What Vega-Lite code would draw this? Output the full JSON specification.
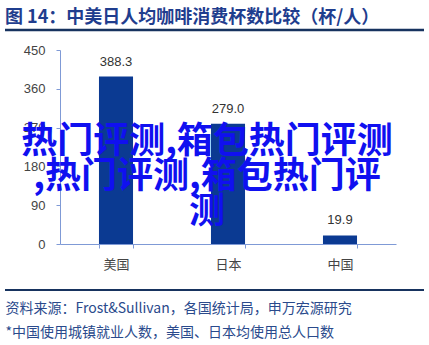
{
  "$schema": "https://vega.github.io/schema/vega-lite/v6.json",
  "autosize": "none",
  "width": 336,
  "height": 194,
  "padding": {"left": 60, "top": 50, "right": 33, "bottom": 101},
  "background": "white",
  "config": {
    "view": {"stroke": null},
    "font": "Liberation Sans, Noto Sans CJK SC",
    "axis": {"labelFont": "Liberation Sans, Noto Sans CJK SC", "titleFont": "Noto Sans CJK SC"}
  },
  "title": {
    "text": "图 14：中美日人均咖啡消费杯数比较（杯/人）",
    "anchor": "start",
    "frame": "group",
    "dx": -55,
    "offset": 2,
    "font": "Noto Sans CJK SC",
    "fontSize": 18,
    "fontWeight": "bold",
    "color": "#1F3D8E"
  },
  "datasets": {
    "bars": [
      {"country": "美国", "cups": 388.3},
      {"country": "日本", "cups": 279.0},
      {"country": "中国", "cups": 19.9}
    ],
    "overlay": [
      {"t": "热门评测,箱包热门评测", "v": 236.6},
      {"t": ",热门评测,箱包热门评", "v": 155.4},
      {"t": "测", "v": 74.2}
    ]
  },
  "layer": [
    {
      "data": {"name": "bars"},
      "mark": {"type": "bar", "color": "#0B3A92"},
      "encoding": {
        "x": {
          "field": "country",
          "type": "nominal",
          "sort": null,
          "scale": {"paddingInner": 0.696, "paddingOuter": 0.348},
          "axis": {
            "title": ["资料来源：Frost&Sullivan，各国统计局，申万宏源研究", "*中国使用城镇就业人数，美国、日本均使用总人口数"],
            "titleX": -55,
            "titleY": 68,
            "titleAlign": "left",
            "titleAnchor": null,
            "titleBaseline": "alphabetic",
            "titleLineHeight": 24,
            "titleFontSize": 14,
            "titleFontWeight": "normal",
            "titleColor": "#2A4A8C",
            "labelAngle": 0,
            "labelFontSize": 13,
            "labelColor": "#444444",
            "labelPadding": 10,
            "domainColor": "#7F9AD6",
            "tickColor": "#7F9AD6",
            "tickSize": 4,
            "tickBand": "extent"
          }
        },
        "y": {
          "field": "cups",
          "type": "quantitative",
          "scale": {"domain": [0, 450], "nice": false},
          "axis": {
            "title": null,
            "values": [0, 90, 180, 270, 360, 450],
            "tickCount": 10,
            "grid": false,
            "labelOverlap": false,
            "labelFontSize": 13,
            "labelColor": "#444444",
            "labelPadding": 11,
            "domainColor": "#7F9AD6",
            "tickColor": "#7F9AD6",
            "tickSize": 4
          }
        }
      }
    },
    {
      "data": {"name": "bars"},
      "mark": {"type": "text", "baseline": "bottom", "dy": -8, "fontSize": 13, "color": "#333333"},
      "encoding": {
        "x": {"field": "country", "type": "nominal", "sort": null},
        "y": {"field": "cups", "type": "quantitative"},
        "text": {"field": "cups", "type": "quantitative", "format": ".1f"}
      }
    },
    {
      "data": {"name": "overlay"},
      "mark": {"type": "text", "align": "center", "baseline": "middle", "dx": -21, "font": "Noto Sans CJK SC", "fontSize": 36, "fontWeight": "bold", "color": "#1010F0"},
      "encoding": {
        "x": {"datum": "日本", "type": "nominal"},
        "y": {"field": "v", "type": "quantitative"},
        "text": {"field": "t", "type": "nominal"}
      }
    },
    {
      "data": {"values": [{"pos": "top"}]},
      "mark": {"type": "rule", "color": "#17335F", "strokeWidth": 2.5},
      "encoding": {"x": {"value": -55}, "x2": {"value": 364}, "y": {"value": -20}}
    },
    {
      "data": {"values": [{"pos": "bottom"}]},
      "mark": {"type": "rule", "color": "#17335F", "strokeWidth": 2},
      "encoding": {"x": {"value": -55}, "x2": {"value": 364}, "y": {"value": 240}}
    }
  ]
}
